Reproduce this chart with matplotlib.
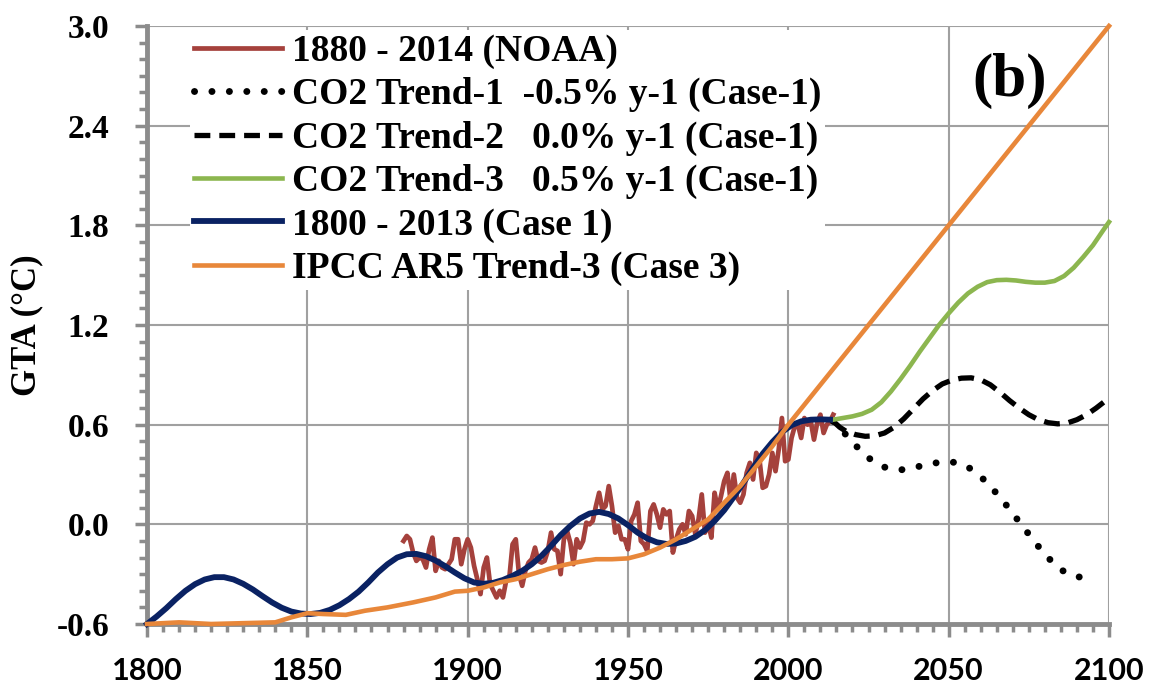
import matplotlib
matplotlib.use('Agg')
import matplotlib.pyplot as plt
from matplotlib.ticker import MultipleLocator, FormatStrFormatter

plt.rcParams['font.family'] = 'Liberation Serif'
plt.rcParams['font.weight'] = 'bold'
plt.rcParams['axes.unicode_minus'] = False

# --- datos ---
# NOAA 1880-2014 (anual)
noaa_years = list(range(1880, 2015))
noaa_gta = [
    -0.10, -0.07, -0.09, -0.17, -0.22, -0.20, -0.21, -0.26, -0.15, -0.08,
    -0.28, -0.22, -0.26, -0.27, -0.24, -0.21, -0.09, -0.09, -0.24, -0.15,
    -0.09, -0.14, -0.25, -0.33, -0.42, -0.26, -0.20, -0.36, -0.40, -0.44,
    -0.40, -0.44, -0.34, -0.32, -0.12, -0.09, -0.30, -0.37, -0.28, -0.23,
    -0.21, -0.14, -0.22, -0.23, -0.22, -0.16, -0.05, -0.15, -0.16, -0.30,
    -0.09, -0.04, -0.11, -0.24, -0.09, -0.14, -0.10, 0.01, 0.00, 0.02,
    0.11, 0.19, 0.09, 0.11, 0.23, 0.11, -0.05, -0.01, -0.09, -0.09,
    -0.15, 0.02, 0.06, 0.13, -0.10, -0.12, -0.16, 0.08, 0.12, 0.06,
    -0.02, 0.09, 0.06, 0.08, -0.17, -0.09, -0.03, 0.00, -0.06, 0.08,
    0.05, -0.06, 0.03, 0.18, -0.05, 0.01, -0.08, 0.19, 0.09, 0.17,
    0.26, 0.31, 0.14, 0.30, 0.16, 0.13, 0.18, 0.31, 0.37, 0.27,
    0.43, 0.39, 0.22, 0.23, 0.30, 0.43, 0.32, 0.45, 0.64, 0.38,
    0.39, 0.52, 0.59, 0.60, 0.52, 0.64, 0.60, 0.62, 0.51, 0.61,
    0.66, 0.55, 0.60, 0.62, 0.66,
]

# CO2 Trend-1 (-0.5% y-1)
t1_years = [2014, 2017, 2020, 2023, 2026, 2029, 2032, 2035, 2038, 2041, 2044, 2047, 2050,
            2053, 2056, 2059, 2062, 2065, 2068, 2071, 2074, 2077, 2080, 2083, 2086, 2089,
            2092, 2095]
t1_gta = [0.620, 0.560, 0.495, 0.435, 0.385, 0.350, 0.333, 0.328, 0.335, 0.350, 0.363, 0.373,
          0.377, 0.370, 0.345, 0.305, 0.250, 0.185, 0.115, 0.040, -0.035, -0.110, -0.180,
          -0.240, -0.285, -0.310, -0.322, -0.330]

# CO2 Trend-2 (0.0% y-1)
t2_years = [2014, 2016, 2018, 2021, 2024, 2027, 2030, 2033, 2036, 2039, 2042, 2045, 2048,
            2051, 2054, 2057, 2060, 2063, 2066, 2069, 2072, 2075, 2078, 2081, 2084, 2087,
            2090, 2093, 2096, 2100]
t2_gta = [0.620, 0.585, 0.560, 0.540, 0.530, 0.533, 0.550, 0.585, 0.635, 0.695, 0.755, 0.805,
          0.845, 0.868, 0.880, 0.882, 0.870, 0.840, 0.795, 0.745, 0.700, 0.660, 0.630, 0.612,
          0.605, 0.610, 0.630, 0.660, 0.700, 0.760]

# CO2 Trend-3 (0.5% y-1)
t3_years = [2014, 2017, 2020, 2023, 2026, 2029, 2032, 2035, 2038, 2041, 2044, 2047, 2050,
            2053, 2056, 2059, 2062, 2065, 2068, 2071, 2074, 2077, 2080, 2083, 2086, 2089,
            2092, 2095, 2098, 2100]
t3_gta = [0.630, 0.640, 0.650, 0.665, 0.690, 0.735, 0.800, 0.875, 0.955, 1.040, 1.120, 1.200,
          1.270, 1.335, 1.390, 1.430, 1.458, 1.470, 1.472, 1.468, 1.460, 1.455, 1.455, 1.465,
          1.495, 1.545, 1.610, 1.680, 1.765, 1.820]

# 1800-2013 (Case 1)
c1_years = [1800, 1803, 1806, 1809, 1812, 1815, 1818, 1821, 1824, 1827, 1830, 1833, 1836,
            1839, 1842, 1845, 1848, 1851, 1854, 1857, 1860, 1863, 1866, 1869, 1872, 1875,
            1878, 1881, 1884, 1887, 1890, 1893, 1896, 1899, 1902, 1905, 1908, 1911, 1914,
            1917, 1920, 1923, 1926, 1929, 1932, 1935, 1938, 1941, 1944, 1947, 1950, 1953,
            1956, 1959, 1962, 1965, 1968, 1971, 1974, 1977, 1980, 1983, 1986, 1989, 1992,
            1995, 1998, 2001, 2004, 2007, 2010, 2013]
c1_gta = [-0.600, -0.555, -0.505, -0.450, -0.400, -0.360, -0.332, -0.318, -0.318, -0.332,
          -0.358, -0.392, -0.432, -0.470, -0.502, -0.525, -0.537, -0.540, -0.533, -0.515,
          -0.487, -0.450, -0.405, -0.350, -0.290, -0.240, -0.200, -0.180, -0.178, -0.192,
          -0.218, -0.252, -0.290, -0.325, -0.350, -0.358, -0.352, -0.335, -0.310, -0.280,
          -0.240, -0.190, -0.130, -0.065, -0.010, 0.035, 0.065, 0.075, 0.062, 0.035,
          -0.005, -0.050, -0.085, -0.108, -0.118, -0.115, -0.100, -0.075, -0.035, 0.020,
          0.085, 0.165, 0.250, 0.340, 0.425, 0.495, 0.555, 0.597, 0.620, 0.630, 0.632, 0.630]

# IPCC AR5 Trend-3 (Case 3)
ipcc_years = [1800, 1810, 1820, 1830, 1840, 1845, 1850, 1855, 1862, 1868, 1875, 1883,
              1890, 1896, 1900, 1905, 1910, 1915, 1920, 1925, 1930, 1935, 1940, 1945,
              1950, 1955, 1960, 1965, 1970, 1975, 1980, 1985, 1990, 1995, 2000, 2050, 2100]
ipcc_gta = [-0.60, -0.59, -0.60, -0.595, -0.59, -0.56, -0.535, -0.54, -0.545, -0.52, -0.50, -0.47,
            -0.44, -0.405, -0.40, -0.38, -0.35, -0.33, -0.30, -0.27, -0.245, -0.225, -0.21, -0.21,
            -0.205, -0.18, -0.14, -0.09, -0.03, 0.03, 0.13, 0.23, 0.35, 0.47, 0.60, 1.80, 3.00]

etiquetas = ['1880 - 2014 (NOAA)',
             'CO2 Trend-1  -0.5% y-1 (Case-1)',
             'CO2 Trend-2   0.0% y-1 (Case-1)',
             'CO2 Trend-3   0.5% y-1 (Case-1)',
             '1800 - 2013 (Case 1)',
             'IPCC AR5 Trend-3 (Case 3)']

# --- figura ---
fig = plt.figure(figsize=(11.67, 6.92), dpi=100)
ax = fig.add_axes([147/1167, 1 - 624/692, 962/1167, 598/692])

ax.plot(noaa_years, noaa_gta, color='#A5413C', lw=3.4, label=etiquetas[0], clip_on=False, zorder=3)
ax.plot(t1_years, t1_gta, color='black', lw=5.0, linestyle=(0, (0.01, 2.5)),
        dash_capstyle='round', label=etiquetas[1], clip_on=False, zorder=3)
ax.plot(t2_years, t2_gta, color='black', lw=3.8, linestyle=(0, (3.0, 1.7)),
        label=etiquetas[2], clip_on=False, zorder=3)
ax.plot(t3_years, t3_gta, color='#8CB64F', lw=3.3, label=etiquetas[3], clip_on=False, zorder=3)
ax.plot(c1_years, c1_gta, color='#0A2263', lw=4.2, label=etiquetas[4], clip_on=False, zorder=4)
ax.plot(ipcc_years, ipcc_gta, color='#E8873A', lw=3.3, label=etiquetas[5], clip_on=False, zorder=5)

ax.set_xlim(1800, 2100)
ax.set_ylim(-0.6, 3.0)
ax.xaxis.set_major_locator(MultipleLocator(50))
ax.xaxis.set_minor_locator(MultipleLocator(5))
ax.yaxis.set_major_locator(MultipleLocator(0.6))
ax.yaxis.set_minor_locator(MultipleLocator(0.1))
ax.yaxis.set_major_formatter(FormatStrFormatter('%.1f'))

# Grilla y ejes en gris estilo Excel
ax.grid(True, which='major', color='#a0a0a0', linewidth=1.5, zorder=0)
ax.set_axisbelow(True)
for lado in ['top', 'right']:
    ax.spines[lado].set_visible(False)
for lado in ['left', 'bottom']:
    ax.spines[lado].set_color('#8c8c8c')
    ax.spines[lado].set_linewidth(3.5)

ax.tick_params(axis='both', which='both', direction='out', color='#8c8c8c', width=2.5)
ax.tick_params(axis='both', which='major', length=9)
ax.tick_params(axis='both', which='minor', length=6)
ax.tick_params(axis='y', which='major', pad=18, labelsize=24)
ax.tick_params(axis='x', which='major', pad=15)
for t in ax.get_xticklabels():
    t.set_family('Lato')
    t.set_fontweight('bold')
    t.set_fontsize(22)

ax.set_ylabel('GTA (°C)', fontsize=25, fontweight='bold', labelpad=10)

ax.text(2069, 2.67, '(b)', fontsize=44, fontweight='bold', ha='center', va='center')

leg = ax.legend(loc='upper left', bbox_to_anchor=(0.045, 0.993), handlelength=2.35,
                handletextpad=0.27, labelspacing=0.22, borderpad=0.1, borderaxespad=0,
                frameon=True, fancybox=False, facecolor='white', edgecolor='none',
                framealpha=1, prop={'family': 'Liberation Serif', 'weight': 'bold', 'size': 27})
leg.set_zorder(6)

plt.savefig('out.png', dpi=100)
